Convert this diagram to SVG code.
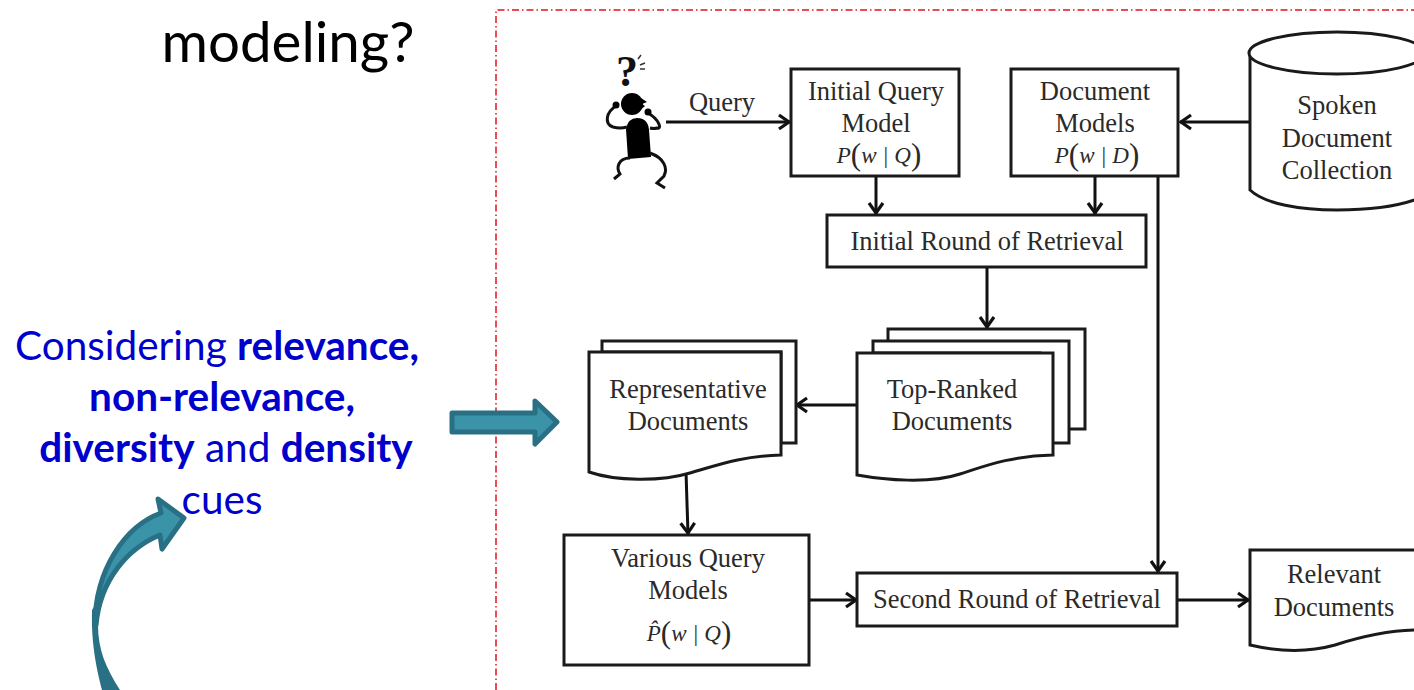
<svg xmlns="http://www.w3.org/2000/svg" width="1414" height="690" viewBox="0 0 1414 690">
<style>
.box{fill:#fff;stroke:#1a1a1a;stroke-width:3}
.ln{fill:none;stroke:#111;stroke-width:3}
.fig{font-family:"Liberation Serif",serif;font-size:26.500px;fill:#2a2a2a;text-anchor:middle}
.math{font-family:"Liberation Serif",serif;font-size:23px;font-style:italic;fill:#2a2a2a;text-anchor:middle}
.math .p{font-size:31px;font-style:normal;font-weight:400}
.side{font-family:Lato,"Open Sans",sans-serif;font-size:40.500px;fill:#0000cc;text-anchor:middle}
.side tspan.b{font-weight:700}
.big{fill:#3a93a8;stroke:#2a7085;stroke-width:5;stroke-linejoin:round}
</style>
<defs>
<marker id="ah" viewBox="0 0 18 18" refX="16" refY="9" markerWidth="18" markerHeight="18" markerUnits="userSpaceOnUse" orient="auto"><path d="M5 2L15 9L5 16" fill="none" stroke="#111" stroke-width="3.200"/></marker>
</defs>
<rect width="1414" height="690" fill="#fff"/>
<text id="title" x="288" y="62" font-family="Lato,'Open Sans',sans-serif" font-size="56.500" fill="#000" text-anchor="middle">modeling?</text>
<g id="cue-text">
<text class="side" x="217" y="360">Considering <tspan class="b">relevance,</tspan></text>
<text class="side" x="222" y="411"><tspan class="b">non-relevance,</tspan></text>
<text class="side" x="226" y="462"><tspan class="b">diversity</tspan> and <tspan class="b">density</tspan></text>
<text class="side" x="222" y="514">cues</text>
</g>
<path id="frame" d="M496 690V10H1414" fill="none" stroke="#e3101c" stroke-width="1.500" stroke-dasharray="7 3 1.500 3"/>
<g id="block-arrow"><path class="big" d="M452 413H535V401L557 422L535 444V432H452Z"/></g>
<g id="curved-arrow">
<path class="big" d="M95 625C95 570 125 526 161 513L158 499L184 518L162 549L160 535C128 548 100 580 96 625Z"/>
<path d="M92 610C91 645 97 670 102 690H120C106 668 98 650 98 625L98 600Z" fill="#2a7085"/>
</g>
<g id="connectors">
<path class="ln" d="M666 122H790" marker-end="url(#ah)"/>
<path class="ln" d="M876 177V214" marker-end="url(#ah)"/>
<path class="ln" d="M1095 177V214" marker-end="url(#ah)"/>
<path class="ln" d="M1249 122H1180" marker-end="url(#ah)"/>
<path class="ln" d="M987 268V328" marker-end="url(#ah)"/>
<path class="ln" d="M857 405H796" marker-end="url(#ah)"/>
<path class="ln" d="M686 472L688 534" marker-end="url(#ah)"/>
<path class="ln" d="M1158 177V572" marker-end="url(#ah)"/>
<path class="ln" d="M809 600H857" marker-end="url(#ah)"/>
<path class="ln" d="M1177 600H1249" marker-end="url(#ah)"/>
</g>
<text id="query-label" class="fig" x="722" y="111">Query</text>
<g id="user">
<text x="627" y="86" font-family="Liberation Serif,serif" font-weight="700" font-size="44" fill="#111" text-anchor="middle">?</text>
<path d="M638 59l3-4M640 65l5-2M640 69h5" stroke="#333" stroke-width="1.500" fill="none"/>
<circle cx="632" cy="104" r="11" fill="#000"/>
<path d="M641 98l6 4-5 2 3 2-6 5z" fill="#000"/>
<path d="M628 159L626 129Q628 118 637 118Q648 118 649 130L651 157Z" fill="#000"/>
<path class="ln" d="M616 106C606 112 604 124 613 127Q620 129 627 127M648 113C660 120 662 130 657 128Q654 129 650 128M630 158C618 158 616 168 620 174L614 179M650 153C664 158 668 168 664 176L657 183L665 188"/>
<circle cx="616" cy="105" r="3.500" fill="#000"/><circle cx="648" cy="112" r="3.500" fill="#000"/>
</g>
<g id="initial-query-model">
<rect class="box" x="791" y="69" width="168" height="107"/>
<text class="fig" x="876" y="100">Initial Query</text><text class="fig" x="876" y="132">Model</text>
<text class="math" x="879" y="163">P<tspan class="p" dy="2">(</tspan><tspan dy="-2">w | Q</tspan><tspan class="p" dy="2">)</tspan></text>
</g>
<g id="document-models">
<rect class="box" x="1011" y="69" width="167" height="107"/>
<text class="fig" x="1095" y="100">Document</text><text class="fig" x="1095" y="132">Models</text>
<text class="math" x="1097" y="163">P<tspan class="p" dy="2">(</tspan><tspan dy="-2">w | D</tspan><tspan class="p" dy="2">)</tspan></text>
</g>
<g id="spoken-document-collection">
<path class="box" d="M1250 53V190C1265 204 1300 210 1337 210C1370 210 1400 206 1420 198V53Z"/>
<ellipse class="box" cx="1337" cy="53" rx="88" ry="21"/>
<text class="fig" x="1337" y="114">Spoken</text><text class="fig" x="1337" y="147">Document</text><text class="fig" x="1337" y="179">Collection</text>
</g>
<g id="initial-round">
<rect class="box" x="827" y="215" width="319" height="52"/>
<text class="fig" x="987" y="250">Initial Round of Retrieval</text>
</g>
<g id="top-ranked-documents">
<path class="box" d="M888 329H1085V429H1040V350H888Z"/>
<path class="box" d="M873 341H1069V443H1040V353H873Z"/>
<path class="box" d="M857 353H1053V455C1010 456 985 466 960 474C930 484 885 480 857 475Z"/>
<text class="fig" x="952" y="398">Top-Ranked</text><text class="fig" x="952" y="430">Documents</text>
</g>
<g id="representative-documents">
<path class="box" d="M602 352V341H796V443H781V352Z"/>
<path class="box" d="M589 352H781V455C740 456 715 466 690 473C660 482 615 481 589 472Z"/>
<text class="fig" x="688" y="398">Representative</text><text class="fig" x="688" y="430">Documents</text>
</g>
<g id="various-query-models">
<rect class="box" x="564" y="535" width="245" height="130"/>
<text class="fig" x="688" y="567">Various Query</text><text class="fig" x="688" y="599">Models</text>
<text class="math" x="689" y="641">P̂<tspan class="p" dy="2">(</tspan><tspan dy="-2">w | Q</tspan><tspan class="p" dy="2">)</tspan></text>
</g>
<g id="second-round">
<rect class="box" x="857" y="573" width="320" height="53"/>
<text class="fig" x="1017" y="608">Second Round of Retrieval</text>
</g>
<g id="relevant-documents">
<path class="box" d="M1420 550H1250V645C1280 652 1310 652 1335 645C1360 637 1390 630 1420 630"/>
<text class="fig" x="1334" y="583">Relevant</text><text class="fig" x="1334" y="616">Documents</text>
</g>
</svg>
